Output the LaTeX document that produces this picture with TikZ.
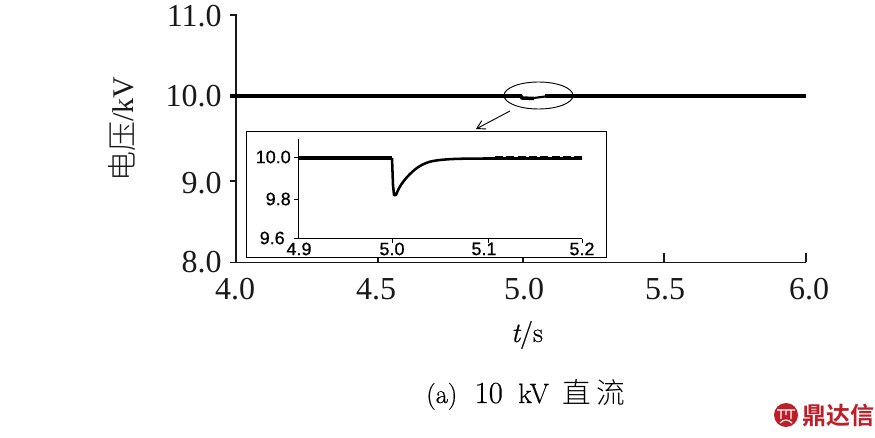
\documentclass[tikz,border=0pt]{standalone}
\usepackage{fontspec}
\usetikzlibrary{arrows.meta,shapes.geometric}
\newfontfamily\cjkfont{Noto Sans CJK SC Light}
\newfontfamily\cjkbold{Noto Sans CJK SC Bold}
\newfontfamily\insetfont[FakeBold=0.6]{Liberation Sans}
\newfontfamily\timesfont{Liberation Serif}
\font\capa="LMRoman10-Regular:embolden=0.5" at 20pt
\font\capb="LMRoman10-Regular:embolden=0.5" at 23pt
\font\capc="LMRoman10-Regular:embolden=0.5" at 21pt
\font\capital="LMRoman10-Italic:embolden=0.5" at 21pt
\font\capsmall="LMRoman10-Regular:embolden=0.5" at 21pt
\definecolor{logored}{RGB}{190,30,40}
\tikzset{
  axisline/.style={line width=0.9pt,black!90},
  ticklabel/.style={inner sep=0,font=\timesfont\fontsize{24}{26}\selectfont,text=black!90},
  insetlabel/.style={inner sep=0,font=\insetfont\fontsize{13.5}{15}\selectfont},
  insetline/.style={line width=0.75pt},
  curve/.style={line width=3pt},
  insetcurve/.style={line width=1.9pt,line join=round},
  markline/.style={line width=0.7pt}
}
\begin{document}
\begin{tikzpicture}[x=0.75pt,y=-0.75pt]
\useasboundingbox (0,0) rectangle (875,438);
% main axes
\draw[axisline] (230,15) -- (236,15) -- (236,262.5) -- (806,262.5);
\foreach \y in {96.5,181,262.5}{
  \draw[axisline] (230,\y) -- (236,\y);
}
\foreach \x in {378,523,664,806}{
  \draw[axisline] (\x,253) -- (\x,262.5);
}
\node[ticklabel,anchor=east] (y11) at (222,16) {11.0};
\node[ticklabel,anchor=east] (y10) at (222,96) {10.0};
\node[ticklabel,anchor=east] (y9) at (222,183) {9.0};
\node[ticklabel,anchor=east] (y8) at (222,262.5) {8.0};
\node[ticklabel] (x40) at (235,289) {4.0};
\node[ticklabel] (x45) at (376,289) {4.5};
\node[ticklabel] (x50) at (524,289) {5.0};
\node[ticklabel] (x55) at (665,289) {5.5};
\node[ticklabel] (x60) at (809,289) {6.0};
\node[inner sep=0,rotate=90,font=\timesfont\fontsize{22.5}{26}\selectfont,text=black!90] (yl) at (122,129) {{\cjkfont 电压}/kV};
\node[inner sep=0,text=black] (xl) at (527,335) {{\capital t}{\capsmall /s}};
\node[inner sep=0,text=black,anchor=base west] (cap) at (426,403) {\capa (a)\hspace{13pt}\capb 10\hspace{11.5pt}\capc kV\hspace{10pt}{\cjkfont\fontsize{21.5}{23}\selectfont 直\hspace{4pt}流}};
% main curve
\draw[curve] (230,96) -- (522,96);
\draw[line width=2.6pt] (521,96) -- (522,98) -- (534,98.5);
\draw[line width=1.6pt] (534,98) -- (545,96.5);
\draw[curve] (545,96) -- (806,96);
% marker ellipse and arrow
\node[draw,markline,ellipse,inner sep=0,minimum width=51.75pt,minimum height=20.25pt] (lens) at (538.5,95.5) {};
\coordinate (arrowtail) at (510,111);
\coordinate (arrowhead) at (476,129);
\draw[markline,-{Straight Barb[length=6pt,width=7pt]}] (arrowtail) -- (arrowhead);
% inset
\draw[insetline,fill=white] (246,132) rectangle (606,258);
\draw[insetline] (298,139) -- (298,239) -- (582,239);
\foreach \y in {158,200,239}{
  \draw[insetline] (294,\y) -- (298,\y);
}
\foreach \x in {392,488,582}{
  \draw[insetline] (\x,239) -- (\x,243);
}
\node[insetlabel,anchor=east] (i100) at (291,157) {10.0};
\node[insetlabel,anchor=east] (i98) at (291,199) {9.8};
\node[insetlabel,anchor=east] (i96) at (285,238) {9.6};
\node[insetlabel] (i49) at (299,249) {4.9};
\node[insetlabel] (i50) at (392,249) {5.0};
\node[insetlabel] (i51) at (484,249) {5.1};
\node[insetlabel] (i52) at (582,249) {5.2};
\draw[line width=3.4pt] (298,158) -- (392,158);
\draw[insetcurve] (392,158) -- (393,185) -- (394,195) -- (396,195)
  .. controls (399,187) and (403,181) .. (410,174)
  .. controls (416,168) and (423,163) .. (433,161)
  .. controls (445,159) and (455,158.5) .. (495,158.5) -- (582,158.5);
\draw[line width=2.8pt,dash pattern=on 6pt off 2.5pt] (495,158) -- (582,158);
% logo
\fill[logored] (786,415) circle (12);
\draw[white,line width=0.9pt] (777,410) -- (795,410) (781,410) -- (781,419) (791,410) -- (791,419) (786,410) -- (786,415) (780,423) .. controls (784,419) and (788,419) .. (792,423);
\node[inner sep=0,anchor=west,text=logored,font=\cjkbold\fontsize{18}{20}\selectfont] (logo) at (802,415) {鼎达信};
\end{tikzpicture}
\end{document}
